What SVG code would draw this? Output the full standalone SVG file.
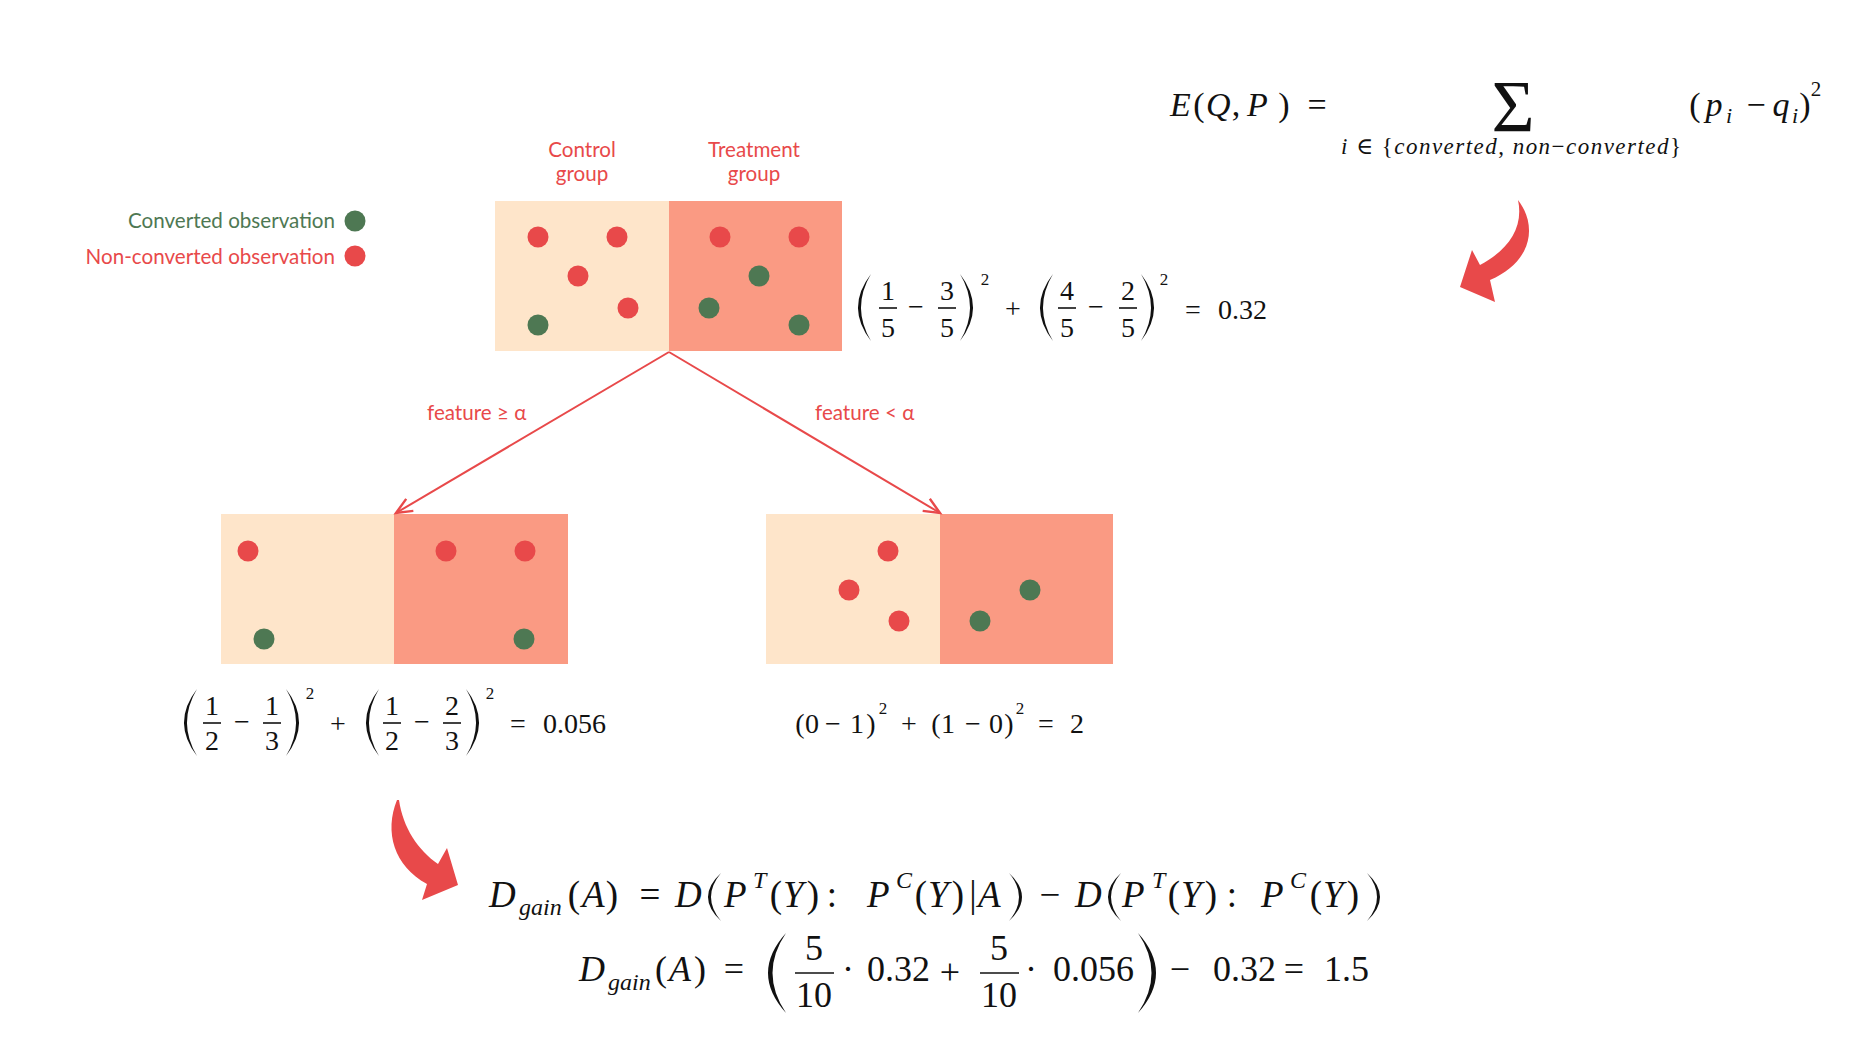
<svg xmlns="http://www.w3.org/2000/svg" width="1854" height="1064" viewBox="0 0 1854 1064">
<style>
.lbl{font-family:Lato,"Open Sans","Liberation Sans",sans-serif;font-size:20.6px}
.tred{fill:#E8494A}
.tgrn{fill:#4E7853}
.dr{fill:#E8494A}
.dg{fill:#4E7853}
.ctl{fill:#FEE5CA}
.trt{fill:#FA9A83}
.m{font-family:"Liberation Serif","DejaVu Serif","Noto Serif","Times New Roman",serif;fill:#111}
.i{font-style:italic}
.c{text-anchor:middle}
.bar{stroke:#111;stroke-width:1.6}
.par{fill:#111}
.edge{stroke:#E8494A;stroke-width:2;fill:none}
.bigarrow{fill:#E8494A}
</style>
<defs>
<marker id="ah" markerWidth="20" markerHeight="18" refX="17" refY="9" orient="auto" markerUnits="userSpaceOnUse" viewBox="0 0 20 18">
<path d="M1,2 L17,9 L1,16" fill="none" stroke="#E8494A" stroke-width="2.4" stroke-linejoin="miter"/>
</marker>
</defs>
<rect width="1854" height="1064" fill="#fff"/>

<g id="legend">
<text class="lbl tgrn" x="335" y="228" text-anchor="end">Converted observation</text>
<circle class="dg" cx="355" cy="221" r="10.5"/>
<text class="lbl tred" x="335" y="264" text-anchor="end">Non-converted observation</text>
<circle class="dr" cx="355" cy="256" r="10.5"/>
</g>

<g id="group-labels" class="lbl tred" text-anchor="middle">
<text x="582" y="157">Control</text>
<text x="582" y="181">group</text>
<text x="754" y="157">Treatment</text>
<text x="754" y="181">group</text>
</g>

<g id="node-root">
<rect class="ctl" x="495" y="201" width="174" height="150"/>
<rect class="trt" x="669" y="201" width="173" height="150"/>
<circle class="dr" cx="538" cy="237" r="10.5"/>
<circle class="dr" cx="617" cy="237" r="10.5"/>
<circle class="dr" cx="578" cy="276" r="10.5"/>
<circle class="dr" cx="628" cy="308" r="10.5"/>
<circle class="dg" cx="538" cy="325" r="10.5"/>
<circle class="dr" cx="720" cy="237" r="10.5"/>
<circle class="dr" cx="799" cy="237" r="10.5"/>
<circle class="dg" cx="759" cy="276" r="10.5"/>
<circle class="dg" cx="709" cy="308" r="10.5"/>
<circle class="dg" cx="799" cy="325" r="10.5"/>
</g>

<g id="node-left">
<rect class="ctl" x="221" y="514" width="173" height="150"/>
<rect class="trt" x="394" y="514" width="174" height="150"/>
<circle class="dr" cx="248" cy="551" r="10.5"/>
<circle class="dr" cx="446" cy="551" r="10.5"/>
<circle class="dr" cx="525" cy="551" r="10.5"/>
<circle class="dg" cx="264" cy="639" r="10.5"/>
<circle class="dg" cx="524" cy="639" r="10.5"/>
</g>

<g id="node-right">
<rect class="ctl" x="766" y="514" width="174" height="150"/>
<rect class="trt" x="940" y="514" width="173" height="150"/>
<circle class="dr" cx="888" cy="551" r="10.5"/>
<circle class="dr" cx="849" cy="590" r="10.5"/>
<circle class="dr" cx="899" cy="621" r="10.5"/>
<circle class="dg" cx="1030" cy="590" r="10.5"/>
<circle class="dg" cx="980" cy="621" r="10.5"/>
</g>

<g id="connectors">
<path class="edge" d="M669,352 L396,513" marker-end="url(#ah)"/>
<path class="edge" d="M669,352 L940,513" marker-end="url(#ah)"/>
<text class="lbl tred" x="427" y="420">feature ≥ α</text>
<text class="lbl tred" x="815" y="420">feature &lt; α</text>
<path class="bigarrow" d="M1518,200 C1538,226 1532,262 1490,280 L1495,302 L1460,287 L1472,250 L1480,265 C1508,250 1524,228 1518,200 Z"/>
<path class="bigarrow" d="M397,800 C384,832 394,866 427,884 L422,900 L458,885 L447,848 L438,864 C418,850 403,828 399,800 Z"/>
</g>

<g id="eq-entropy" class="m" font-size="34">
<text class="i" x="1170" y="116">E</text>
<text class="c" x="1199" y="116">(</text>
<text class="i" x="1206" y="116">Q</text>
<text class="c" x="1236" y="116">,</text>
<text class="i" x="1247" y="116">P</text>
<text class="c" x="1284" y="116">)</text>
<text class="c" x="1317" y="116">=</text>
<text class="c" x="1513" y="132" font-size="74">Σ</text>
<text x="1341" y="154" font-size="23" textLength="340" lengthAdjust="spacing"><tspan class="i">i</tspan> ∈ {<tspan class="i">converted</tspan>, <tspan class="i">non</tspan>−<tspan class="i">converted</tspan>}</text>
<text class="c" x="1695" y="116">(</text>
<text class="c i" x="1714" y="116">p</text>
<text class="c i" x="1729" y="123" font-size="22">i</text>
<text class="c" x="1756" y="116">−</text>
<text class="c i" x="1781" y="116">q</text>
<text class="c i" x="1795" y="123" font-size="22">i</text>
<text class="c" x="1805" y="116">)</text>
<text class="c" x="1816" y="96" font-size="21">2</text>
</g>

<g id="eq-root" class="m" font-size="28">
<path class="par" d="M871,274 Q845,307.5 871,341 Q851,307.5 871,274 Z"/>
<text class="c" x="888" y="300">1</text>
<line class="bar" x1="879" y1="308" x2="897" y2="308"/>
<text class="c" x="888" y="337">5</text>
<text class="c" x="916" y="316">−</text>
<text class="c" x="947" y="300">3</text>
<line class="bar" x1="938" y1="308" x2="956" y2="308"/>
<text class="c" x="947" y="337">5</text>
<path class="par" d="M960,274 Q986,307.5 960,341 Q980,307.5 960,274 Z"/>
<text class="c" x="985" y="285" font-size="17">2</text>
<text class="c" x="1013" y="318">+</text>
<path class="par" d="M1053,274 Q1027,307.5 1053,341 Q1033,307.5 1053,274 Z"/>
<text class="c" x="1067" y="300">4</text>
<line class="bar" x1="1058" y1="308" x2="1076" y2="308"/>
<text class="c" x="1067" y="337">5</text>
<text class="c" x="1096" y="316">−</text>
<text class="c" x="1128" y="300">2</text>
<line class="bar" x1="1119" y1="308" x2="1137" y2="308"/>
<text class="c" x="1128" y="337">5</text>
<path class="par" d="M1141,274 Q1167,307.5 1141,341 Q1161,307.5 1141,274 Z"/>
<text class="c" x="1164" y="285" font-size="17">2</text>
<text class="c" x="1193" y="319">=</text>
<text x="1218" y="319">0.32</text>
</g>

<g id="eq-left" class="m" font-size="28">
<path class="par" d="M197,689 Q171,722.5 197,756 Q177,722.5 197,689 Z"/>
<text class="c" x="212" y="715">1</text>
<line class="bar" x1="203" y1="723" x2="221" y2="723"/>
<text class="c" x="212" y="750">2</text>
<text class="c" x="242" y="731">−</text>
<text class="c" x="272" y="715">1</text>
<line class="bar" x1="263" y1="723" x2="281" y2="723"/>
<text class="c" x="272" y="750">3</text>
<path class="par" d="M286,689 Q312,722.5 286,756 Q306,722.5 286,689 Z"/>
<text class="c" x="310" y="699" font-size="17">2</text>
<text class="c" x="338" y="733">+</text>
<path class="par" d="M379,689 Q353,722.5 379,756 Q359,722.5 379,689 Z"/>
<text class="c" x="392" y="715">1</text>
<line class="bar" x1="383" y1="723" x2="401" y2="723"/>
<text class="c" x="392" y="750">2</text>
<text class="c" x="422" y="731">−</text>
<text class="c" x="452" y="715">2</text>
<line class="bar" x1="443" y1="723" x2="461" y2="723"/>
<text class="c" x="452" y="750">3</text>
<path class="par" d="M466,689 Q492,722.5 466,756 Q486,722.5 466,689 Z"/>
<text class="c" x="490" y="699" font-size="17">2</text>
<text class="c" x="518" y="733">=</text>
<text x="543" y="733">0.056</text>
</g>

<g id="eq-right" class="m" font-size="28">
<text class="c" x="800" y="733">(</text>
<text class="c" x="812" y="733">0</text>
<text class="c" x="833" y="733">−</text>
<text class="c" x="857" y="733">1</text>
<text class="c" x="871" y="733">)</text>
<text class="c" x="883" y="714" font-size="17">2</text>
<text class="c" x="909" y="733">+</text>
<text class="c" x="936" y="733">(</text>
<text class="c" x="948" y="733">1</text>
<text class="c" x="973" y="733">−</text>
<text class="c" x="996" y="733">0</text>
<text class="c" x="1009" y="733">)</text>
<text class="c" x="1020" y="714" font-size="17">2</text>
<text class="c" x="1046" y="733">=</text>
<text class="c" x="1077" y="733">2</text>
</g>

<g id="eq-gain-def" class="m" font-size="37">
<text class="i" x="489" y="907">D</text>
<text class="i" x="519" y="915" font-size="24">gain</text>
<text class="c" x="574" y="907">(</text>
<text class="i" x="582" y="907">A</text>
<text class="c" x="612" y="907">)</text>
<text class="c" x="650" y="907">=</text>
<text class="i" x="675" y="907">D</text>
<path class="par" d="M721,873 Q695,897 721,921 Q701,897 721,873 Z"/>
<text class="i" x="724" y="907">P</text>
<text class="i" x="753" y="888" font-size="24">T</text>
<text class="c" x="776" y="907">(</text>
<text class="i" x="783" y="907">Y</text>
<text class="c" x="813" y="907">)</text>
<text class="c" x="832" y="907">:</text>
<text class="i" x="867" y="907">P</text>
<text class="i" x="896" y="888" font-size="24">C</text>
<text class="c" x="921" y="907">(</text>
<text class="i" x="928" y="907">Y</text>
<text class="c" x="958" y="907">)</text>
<text class="c" x="973" y="907">|</text>
<text class="i" x="978" y="907">A</text>
<path class="par" d="M1009,873 Q1035,897 1009,921 Q1029,897 1009,873 Z"/>
<text class="c" x="1050" y="907">−</text>
<text class="i" x="1075" y="907">D</text>
<path class="par" d="M1121,873 Q1095,897 1121,921 Q1101,897 1121,873 Z"/>
<text class="i" x="1122" y="907">P</text>
<text class="i" x="1152" y="888" font-size="24">T</text>
<text class="c" x="1174" y="907">(</text>
<text class="i" x="1181" y="907">Y</text>
<text class="c" x="1211" y="907">)</text>
<text class="c" x="1232" y="907">:</text>
<text class="i" x="1261" y="907">P</text>
<text class="i" x="1290" y="888" font-size="24">C</text>
<text class="c" x="1316" y="907">(</text>
<text class="i" x="1323" y="907">Y</text>
<text class="c" x="1353" y="907">)</text>
<path class="par" d="M1367,873 Q1393,897 1367,921 Q1387,897 1367,873 Z"/>
</g>

<g id="eq-gain-value" class="m" font-size="36">
<text class="i" x="579" y="981">D</text>
<text class="i" x="608" y="990" font-size="24">gain</text>
<text class="c" x="661" y="981">(</text>
<text class="i" x="669" y="981">A</text>
<text class="c" x="700" y="981">)</text>
<text class="c" x="734" y="981">=</text>
<path class="par" d="M786,933 Q750,973 786,1013 Q759,973 786,933 Z"/>
<text class="c" x="814" y="960">5</text>
<line class="bar" x1="795" y1="973" x2="834" y2="973"/>
<text class="c" x="814" y="1007">10</text>
<text class="c" x="848" y="981">·</text>
<text x="867" y="981">0.32</text>
<text class="c" x="950" y="984">+</text>
<text class="c" x="999" y="960">5</text>
<line class="bar" x1="980" y1="973" x2="1019" y2="973"/>
<text class="c" x="999" y="1007">10</text>
<text class="c" x="1031" y="981">·</text>
<text x="1053" y="981">0.056</text>
<path class="par" d="M1138,933 Q1174,973 1138,1013 Q1165,973 1138,933 Z"/>
<text class="c" x="1180" y="981">−</text>
<text x="1213" y="981">0.32</text>
<text class="c" x="1294" y="981">=</text>
<text x="1324" y="981">1.5</text>
</g>
</svg>
